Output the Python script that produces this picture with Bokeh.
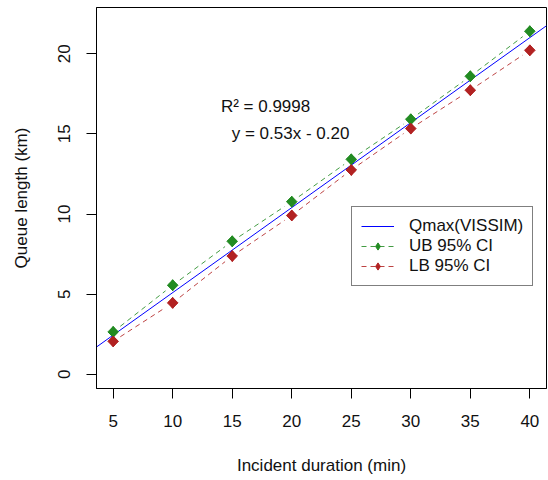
import numpy as np
from bokeh.plotting import figure
from bokeh.models import Range1d, FixedTicker, Legend, LegendItem, ColumnDataSource
from bokeh.core.properties import value
from bokeh.embed import file_html
from bokeh.resources import INLINE

# ---- data ----
duration = [5, 10, 15, 20, 25, 30, 35, 40]
ub_95 = [2.65, 5.56, 8.30, 10.77, 13.41, 15.91, 18.59, 21.40]
lb_95 = [2.06, 4.46, 7.38, 9.91, 12.75, 15.33, 17.72, 20.21]
fit_slope = 0.53
fit_intercept = -0.20
x_ticks = [5, 10, 15, 20, 25, 30, 35, 40]
y_ticks = [0, 5, 10, 15, 20]
annot_text = ["R\u00b2 = 0.9998", "y = 0.53x - 0.20"]
annot_x = [17.8, 19.9]
annot_y = [16.7, 15.0]

FONT = "Liberation Sans"
GREEN = "#228B22"
RED = "#B22222"

x_lo, x_hi = 3.6, 41.4
y_lo, y_hi = -0.88, 22.88

p = figure(width=548, height=480, output_backend="svg", toolbar_location=None,
           x_range=Range1d(x_lo, x_hi), y_range=Range1d(y_lo, y_hi),
           min_border_left=96, min_border_right=2, min_border_top=7, min_border_bottom=92)
p.background_fill_color = "white"
p.border_fill_color = "white"
p.outline_line_color = "black"
p.outline_line_width = 1
p.xgrid.visible = False
p.ygrid.visible = False

# regression line across the full plot
xs_fit = np.array([x_lo, x_hi])
r_fit = p.line(xs_fit, fit_slope * xs_fit + fit_intercept, line_color="#0000FF", line_width=1)

# dashed connecting lines with gaps around points (R type="b")
def gapped(xv, yv, f=0.12):
    xv = np.asarray(xv, float); yv = np.asarray(yv, float)
    dx = np.diff(xv); dy = np.diff(yv)
    return dict(x0=xv[:-1] + f * dx, y0=yv[:-1] + f * dy,
                x1=xv[1:] - f * dx, y1=yv[1:] - f * dy)

src_ub = ColumnDataSource(gapped(duration, ub_95))
src_lb = ColumnDataSource(gapped(duration, lb_95))
r_ub_line = p.segment("x0", "y0", "x1", "y1", source=src_ub, line_color=GREEN,
                      line_dash="5 4", line_width=1, line_alpha=0.85)
r_lb_line = p.segment("x0", "y0", "x1", "y1", source=src_lb, line_color=RED,
                      line_dash="5 4", line_width=1, line_alpha=0.85)
# diamonds used for the legend symbol (fully covered by the plotted markers)
r_ub_leg = p.scatter(duration, ub_95, marker="diamond", size=11,
                     fill_color=GREEN, line_color=GREEN)
r_lb_leg = p.scatter(duration, lb_95, marker="diamond", size=11,
                     fill_color=RED, line_color=RED)
r_ub_pts = p.scatter(duration, ub_95, marker="square", size=7.5, angle=np.pi / 4,
                     fill_color=GREEN, line_color=GREEN)
r_lb_pts = p.scatter(duration, lb_95, marker="square", size=7.5, angle=np.pi / 4,
                     fill_color=RED, line_color=RED)

# annotation text
p.text(x=annot_x, y=annot_y, text=annot_text, text_font=value(FONT),
       text_font_size="17px", text_color="#111111", text_align="center",
       text_baseline="middle")

# axes
for ax in (p.xaxis[0], p.yaxis[0]):
    ax.axis_line_color = "black"
    ax.major_tick_line_color = "black"
    ax.major_tick_out = 10
    ax.major_tick_in = 0
    ax.minor_tick_line_color = None
    ax.major_label_text_font = FONT
    ax.major_label_text_font_size = "17px"
    ax.major_label_text_color = "#111111"
    ax.axis_label_text_font = FONT
    ax.axis_label_text_font_size = "17px"
    ax.axis_label_text_font_style = "normal"
    ax.axis_label_text_color = "#111111"

p.xaxis.ticker = FixedTicker(ticks=x_ticks)
p.yaxis.ticker = FixedTicker(ticks=y_ticks)
p.xaxis.axis_label = "Incident duration (min)"
p.yaxis.axis_label = "Queue length (km)"
p.xaxis.major_label_standoff = 16
p.xaxis.axis_label_standoff = 26
p.yaxis.major_label_orientation = "vertical"
p.yaxis.major_label_standoff = 16
p.yaxis.axis_label_standoff = 25

legend = Legend(items=[
    LegendItem(label="Qmax(VISSIM)", renderers=[r_fit]),
    LegendItem(label="UB 95% CI", renderers=[r_ub_line, r_ub_leg]),
    LegendItem(label="LB 95% CI", renderers=[r_lb_line, r_lb_leg]),
], location=(255, 102))
legend.border_line_color = "black"
legend.border_line_width = 1
legend.background_fill_color = "white"
legend.background_fill_alpha = 1
legend.label_text_font = FONT
legend.label_text_font_size = "17px"
legend.label_text_color = "#111111"
legend.glyph_width = 33
legend.glyph_height = 18
legend.label_height = 18
legend.label_standoff = 15
legend.padding = 9
legend.spacing = 0
legend.margin = 0
p.add_layout(legend)

open("out.html", "w").write(file_html(p, INLINE))
